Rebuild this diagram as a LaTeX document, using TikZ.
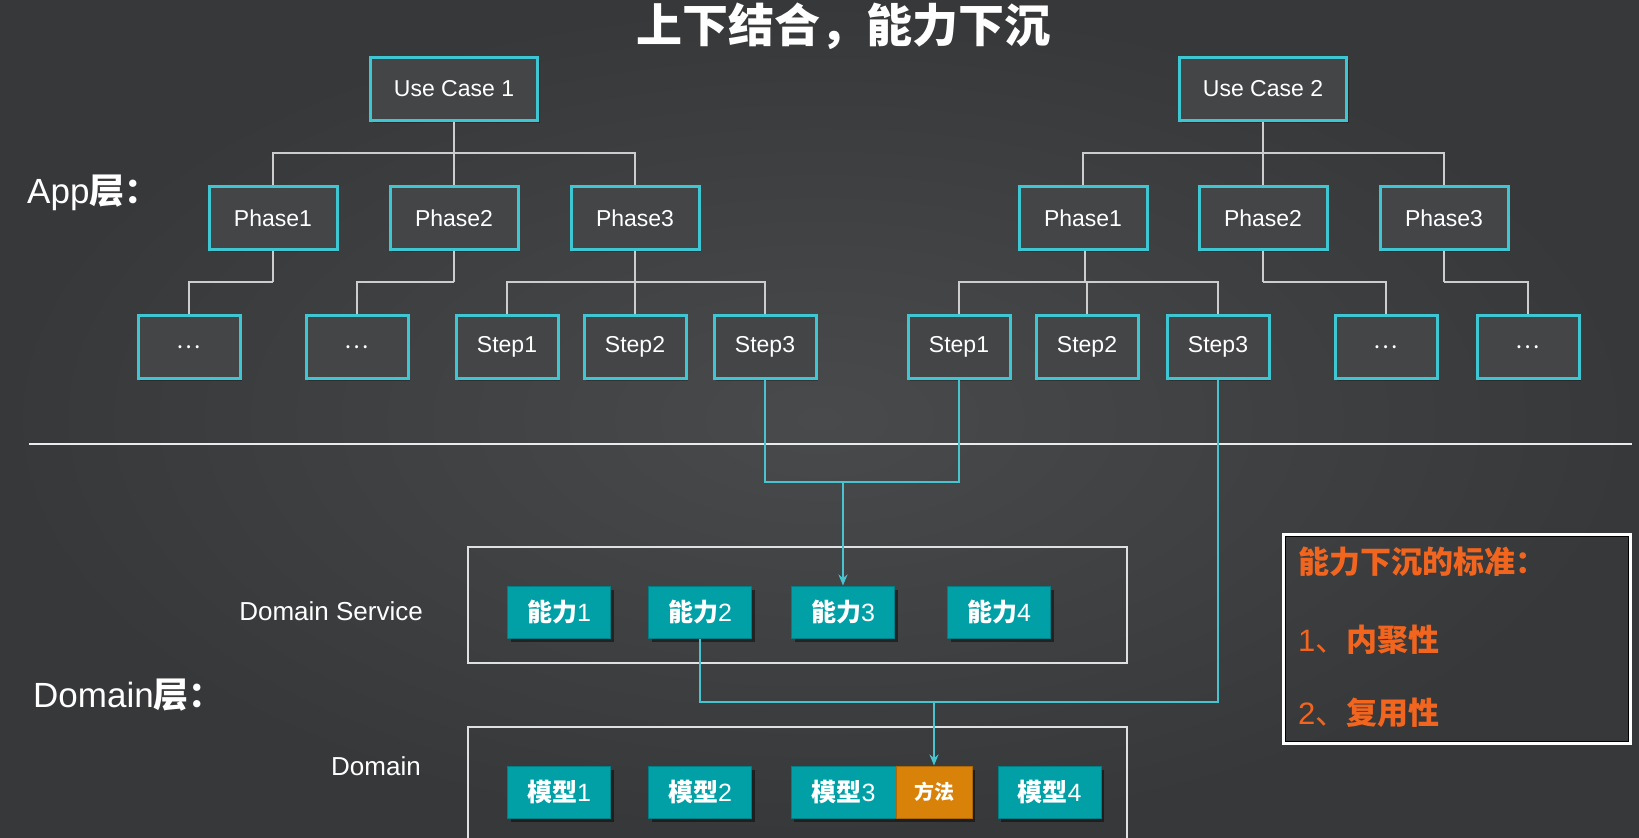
\documentclass[tikz,border=0pt]{standalone}
\usepackage{fontspec}
\setmainfont{Liberation Sans}
\newfontfamily\cjk{Noto Sans CJK SC}
\usetikzlibrary{arrows.meta,shadows}
\definecolor{bgin}{RGB}{73,74,76}
\definecolor{bgout}{RGB}{55,56,58}
\definecolor{cyanc}{RGB}{62,198,210}
\definecolor{linec}{RGB}{72,196,208}
\definecolor{tealc}{RGB}{0,160,166}
\definecolor{teald}{RGB}{0,128,134}
\definecolor{orangec}{RGB}{217,130,10}
\definecolor{critc}{RGB}{242,101,30}
\definecolor{treeg}{RGB}{205,205,205}
\newcommand\myfs[1]{\fontsize{#1}{#1}\selectfont}
\begin{document}
\begin{tikzpicture}[x=1pt,y=-1pt,
  ubox/.style={draw=cyanc, line width=3pt, minimum width=#1, minimum height=63pt, inner sep=0pt, text=white, font=\myfs{23},
    drop shadow={shadow xshift=2pt, shadow yshift=-2pt, opacity=0.25, fill=black}, fill=bgin!70!bgout},
  ubox/.default=102pt,
  tbox/.style={fill=tealc, draw=teald, line width=1pt, minimum width=#1, minimum height=52pt, inner sep=0pt, text=white, font=\myfs{25},
    drop shadow={shadow xshift=3pt, shadow yshift=-4pt, opacity=0.45, fill=black}},
  tbox/.default=103pt,
  container/.style={draw=white!88!black, line width=2pt, inner sep=0pt},
  tline/.style={draw=treeg, line width=1.5pt},
  cline/.style={draw=linec, line width=2.5pt},
  arr/.style={-{Stealth[length=11pt,width=9pt]}},
  lbl/.style={text=white, inner sep=0pt},
  crittext/.style={text=critc, inner sep=0pt, anchor=west, font=\myfs{31}},
]
\useasboundingbox (0,0) rectangle (1639,838);
\shade[inner color=bgin, outer color=bgout] (0,0) rectangle (1639,838);

% title
\node[lbl, font=\cjk\bfseries\myfs{46}] (title) at (843,26) {上下结合，能力下沉};

% layer labels
\node[lbl, anchor=west, font=\myfs{35}] (applbl) at (27,193) {App{\cjk\bfseries 层：}};
\node[lbl, anchor=west, font=\myfs{35}] (domlbl) at (33,695) {Domain{\cjk\bfseries 层：}};

% app tree 1
\node[ubox=167pt] (uc1) at (454,89) {Use Case 1};
\node[ubox=128pt] (a1) at (273,218) {Phase1};
\node[ubox=128pt] (a2) at (454,218) {Phase2};
\node[ubox=128pt] (a3) at (635,218) {Phase3};
\node[ubox] (ad1) at (189,347) {{\cjk …}};
\node[ubox] (ad2) at (357,347) {{\cjk …}};
\node[ubox] (as1) at (507,347) {Step1};
\node[ubox] (as2) at (635,347) {Step2};
\node[ubox] (as3) at (765,347) {Step3};

% app tree 2
\node[ubox=167pt] (uc2) at (1263,89) {Use Case 2};
\node[ubox=128pt] (b1) at (1083,218) {Phase1};
\node[ubox=128pt] (b2) at (1263,218) {Phase2};
\node[ubox=128pt] (b3) at (1444,218) {Phase3};
\node[ubox] (bs1) at (959,347) {Step1};
\node[ubox] (bs2) at (1087,347) {Step2};
\node[ubox] (bs3) at (1218,347) {Step3};
\node[ubox] (bd1) at (1386,347) {{\cjk …}};
\node[ubox] (bd2) at (1528,347) {{\cjk …}};

% tree junctions
\coordinate (juc1) at (454,153);
\coordinate (juc2) at (1263,153);
\coordinate (ja1) at (273,282);
\coordinate (ja2) at (454,282);
\coordinate (ja3) at (635,282);
\coordinate (jb1) at (1085,282);
\coordinate (jb2) at (1263,282);
\coordinate (jb3) at (1444,282);

\draw[tline] (uc1.south) -- (juc1);
\draw[tline] (a1.north) |- (juc1);
\draw[tline] (a2.north) -- (juc1);
\draw[tline] (a3.north) |- (juc1);
\draw[tline] (a1.south) -- (ja1);
\draw[tline] (ad1.north) |- (ja1);
\draw[tline] (a2.south) -- (ja2);
\draw[tline] (ad2.north) |- (ja2);
\draw[tline] (a3.south) -- (ja3);
\draw[tline] (as1.north) |- (ja3);
\draw[tline] (as2.north) -- (ja3);
\draw[tline] (as3.north) |- (ja3);

\draw[tline] (uc2.south) -- (juc2);
\draw[tline] (b1.north) |- (juc2);
\draw[tline] (b2.north) -- (juc2);
\draw[tline] (b3.north) |- (juc2);
\draw[tline] (jb1 |- b1.south) -- (jb1);
\draw[tline] (bs1.north) |- (jb1);
\draw[tline] (bs2.north) |- (jb1);
\draw[tline] (bs3.north) |- (jb1);
\draw[tline] (b2.south) -- (jb2);
\draw[tline] (bd1.north) |- (jb2);
\draw[tline] (b3.south) -- (jb3);
\draw[tline] (bd2.north) |- (jb3);

% divider
\coordinate (dl) at (29,444);
\coordinate (dr) at (1632,444);
\draw[white!92!black, line width=2.5pt] (dl) -- (dr);

% domain labels
\node[lbl, anchor=east, font=\myfs{26}] (dslbl) at (423,611) {Domain Service};
\node[lbl, anchor=east, font=\myfs{26}] (dmlbl) at (421,766) {Domain};

% containers
\node[container, minimum width=659pt, minimum height=116pt] (dsb) at (797.5,605) {};
\node[container, minimum width=659pt, minimum height=150pt] (dmb) at (797.5,802) {};

% capability boxes
\node[tbox] (n1) at (559,612) {{\cjk\bfseries 能力}1};
\node[tbox] (n2) at (700,612) {{\cjk\bfseries 能力}2};
\node[tbox] (n3) at (843,612) {{\cjk\bfseries 能力}3};
\node[tbox] (n4) at (999,612) {{\cjk\bfseries 能力}4};

% model boxes
\node[tbox] (m1) at (559,792) {{\cjk\bfseries 模型}1};
\node[tbox] (m2) at (700,792) {{\cjk\bfseries 模型}2};
\node[tbox=105pt] (m3) at (843.5,792) {{\cjk\bfseries 模型}3};
\node[tbox=76pt, fill=orangec, draw=orangec!80!black] (ff) at (934,792) {\cjk\bfseries\myfs{20}方法};
\node[tbox] (m4) at (1049.5,792) {{\cjk\bfseries 模型}4};

% cyan connectors
\coordinate (cj1) at (843,482);
\coordinate (cj2) at (934,702);
\draw[cline] (as3.south) |- (cj1) -| (bs1.south);
\draw[cline, arr] (cj1) -- (n3.north);
\draw[cline] (bs3.south) |- (cj2) -| (n2.south);
\draw[cline, arr] (cj2) -- (ff.north);

% criteria box
\node[draw=white, line width=3pt, minimum width=347pt, minimum height=209pt, inner sep=0pt] (crit) at (1457,639) {};
\draw[black, line width=1.2pt] ([shift={(3.5,3.5)}]crit.north west) rectangle ([shift={(-3.5,-3.5)}]crit.south east);
\node[crittext] (c0) at (1298,562) {\cjk\bfseries 能力下沉的标准：};
\node[crittext] (c1) at (1298,640) {1{\cjk 、\bfseries 内聚性}};
\node[crittext] (c2) at (1298,713) {2{\cjk 、\bfseries 复用性}};
\end{tikzpicture}
\end{document}
